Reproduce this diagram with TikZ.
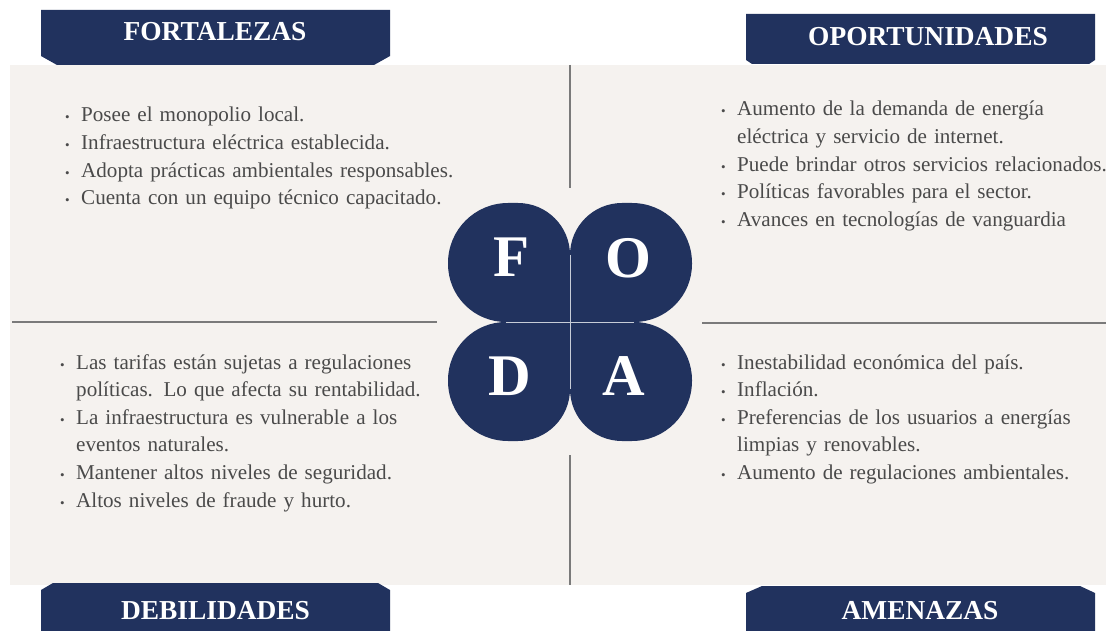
\documentclass[tikz,border=0pt]{standalone}
\usepackage{fontspec}
\setmainfont{Liberation Serif}

\definecolor{navy}{HTML}{21325E}
\definecolor{panelbg}{HTML}{F5F2EF}
\definecolor{divgray}{HTML}{7A7A7A}
\definecolor{bodytxt}{HTML}{4A4A4A}

% bullet item with hanging indent
\newcommand{\itm}[1]{\hangindent=16pt\hangafter=1\noindent\makebox[16pt][l]{\fontsize{13}{13}\selectfont\textbullet}#1\par}

\begin{document}
\begin{tikzpicture}[
    x=1pt, y=-1pt,
    tab/.style={fill=navy},
    tabtext/.style={text=white, font=\fontsize{27.4}{30}\selectfont\bfseries},
    lobe/.style={fill=navy},
    letter/.style={text=white, font=\fontsize{59}{60}\selectfont\bfseries},
    itemlist/.style={anchor=base west, text width=400pt, align=left, inner sep=0pt, text=bodytxt, font=\fontsize{21.1}{27.6}\selectfont},
    divider/.style={draw=divgray, line width=1.8pt}
]
\useasboundingbox (0,0) rectangle (1106,631);
\fill[white] (0,0) rectangle (1106,631);

% panel and dividers
\fill[panelbg] (10,65) rectangle (1106,585);
\draw[divider] (570,65) -- (570,188);
\draw[divider] (570,455) -- (570,585);
\draw[divider] (12,322) -- (437,322);
\draw[divider] (702,323) -- (1106,323);

% header tabs
\fill[tab] (41,10) -- (390,10) -- (390,56) -- (374,65) -- (57,65) -- (41,56) -- cycle;
\fill[tab] (746,14) -- (1095,14) -- (1095,60) -- (1089,64) -- (752,64) -- (746,60) -- cycle;
\fill[tab] (41,640) -- (41,590) -- (53,583) -- (378,583) -- (390,590) -- (390,640) -- cycle;
\fill[tab] (746,640) -- (746,593) -- (762,586) -- (1080,586) -- (1095,593) -- (1095,640) -- cycle;

\node (fort) [tabtext] at (215,32) {FORTALEZAS};
\node (opor) [tabtext] at (928,37) {OPORTUNIDADES};
\node (deb) [tabtext] at (215.5,611) {DEBILIDADES};
\node (amen) [tabtext] at (920,611) {AMENAZAS};

% clover in the middle, one lobe mirrored four times
\foreach \sx/\sy in {1/1,-1/1,1/-1,-1/-1}
  \fill[lobe, shift={(570,322)}, xscale=\sx, yscale=\sy]
    (0,0) -- (0,-67) arc[start angle=0, end angle=-90, radius=52]
    -- (-62,-119) arc[start angle=-90, end angle=-180, radius=60]
    -- (-122,-58) arc[start angle=180, end angle=90, radius=58] -- cycle;
\draw[white!75!navy, line width=0.8pt] (570,255) -- (570,389);
\draw[white!75!navy, line width=0.8pt] (506,322) -- (634,322);

\node (F) [letter] at (512,257.5) {F};
\node (O) [letter] at (628,258) {O};
\node (D) [letter] at (510,376) {D};
\node (A) [letter] at (624,376) {A};

% lists
\node (fortList) [itemlist] at (65,122) {
  \itm{Posee el monopolio local.}
  \itm{Infraestructura eléctrica establecida.}
  \itm{Adopta prácticas ambientales responsables.}
  \itm{Cuenta con un equipo técnico capacitado.}};
\node (oporList) [itemlist] at (721,116) {
  \itm{Aumento de la demanda de energía\newline eléctrica y servicio de internet.}
  \itm{Puede brindar otros servicios relacionados.}
  \itm{Políticas favorables para el sector.}
  \itm{Avances en tecnologías de vanguardia}};
\node (debList) [itemlist] at (60,369) {
  \itm{Las tarifas están sujetas a regulaciones\newline políticas. Lo que afecta su rentabilidad.}
  \itm{La infraestructura es vulnerable a los\newline eventos naturales.}
  \itm{Mantener altos niveles de seguridad.}
  \itm{Altos niveles de fraude y hurto.}};
\node (amenList) [itemlist] at (721,369) {
  \itm{Inestabilidad económica del país.}
  \itm{Inflación.}
  \itm{Preferencias de los usuarios a energías\newline limpias y renovables.}
  \itm{Aumento de regulaciones ambientales.}};
\end{tikzpicture}
\end{document}
